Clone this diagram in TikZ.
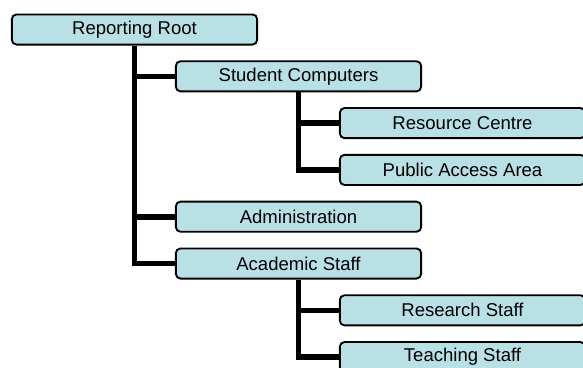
\documentclass[tikz,border=0pt]{standalone}
\usepackage{fontspec}
\setmainfont{Liberation Sans}
\usepackage {tikz}
\usetikzlibrary {positioning}
\definecolor{boxcyan}{RGB}{185,224,228}

\begin{document}
\begin{tikzpicture}[x=0.75pt,y=-0.75pt,node distance=35.1pt,
    main node/.style={rectangle,rounded corners=3.5pt,draw,line width=1.4pt,fill=boxcyan,minimum width=184pt,minimum height=22.6pt,inner sep=0pt,font=\fontsize{13.9}{16}\selectfont},
    branch/.style={line width=4.2pt,to path={|- (\tikztotarget)}}]
            \useasboundingbox (0,0) rectangle (583,368);
            \clip (0,0) rectangle (583,368);
            \node[main node] (1) at (134.5,29.5) {Reporting Root};
            \node[main node] (2) [below of=1,xshift=123pt] {Student Computers};
            \node[main node] (3) [below of=2,xshift=123pt] {Resource Centre};
            \node[main node] (4) [below of=3] {Public Access Area};
            \node[main node] (5) [below of=4,xshift=-123pt] {Administration};
            \node[main node] (6) [below of=5] {Academic Staff};
            \node[main node] (7) [below of=6,xshift=123pt] {Research Staff};
            \node[main node] (8) [below of=7] {Teaching Staff};

          \path[branch]
            (1) edge (2)
            (1) edge (5)
            (1) edge (6)
            (2) edge (3)
            (2) edge (4)
            (6) edge (7)
            (6) edge (8)
            ;
        \end{tikzpicture}
\end{document}
